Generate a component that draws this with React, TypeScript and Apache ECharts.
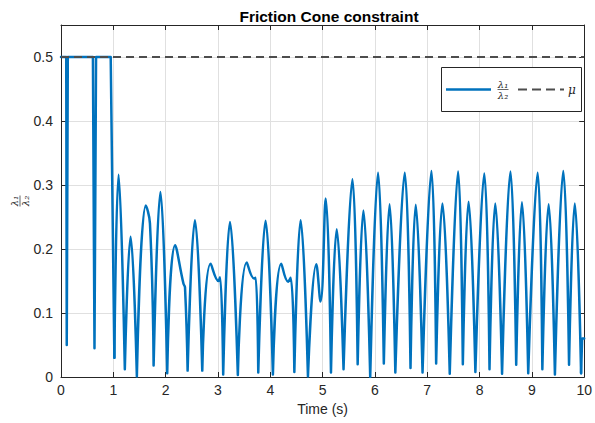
import React, { useEffect, useRef } from "react";
import * as echarts from "echarts";

// Initial sticking phase (ratio saturated at mu)
const startTimes = [0, 0.1, 0.11, 0.13, 0.61, 0.64, 0.67, 0.95, 1.02];
const startRatios = [0.5, 0.5, 0.05, 0.5, 0.5, 0.045, 0.5, 0.5, 0.03];

// Walking cycles (peaks, troughs and shoulders)
const cycleTimes = [
  1.02, 1.1, 1.22, 1.33, 1.45, 1.62, 1.7, 1.77, 1.9, 2.03, 2.18, 2.34, 2.37, 2.42,
  2.56, 2.7, 2.86, 3.01, 3.04, 3.1, 3.23, 3.38, 3.55, 3.69, 3.72, 3.77, 3.91, 4.05,
  4.21, 4.34, 4.39, 4.46, 4.58, 4.72, 4.88, 4.96, 5.06, 5.16, 5.27, 5.4, 5.57, 5.67,
  5.78, 5.91, 6.06, 6.17, 6.28, 6.39, 6.57, 6.68, 6.78, 6.91, 7.08, 7.17, 7.29, 7.43,
  7.59, 7.68, 7.79, 7.92, 8.09, 8.19, 8.3, 8.43, 8.59, 8.7, 8.81, 8.93, 9.11, 9.2,
  9.32, 9.44, 9.6, 9.71, 9.82, 9.94,
];
const cycleRatios = [
  0.03, 0.316, 0.012, 0.219, 0.001, 0.268, 0.24, 0.018, 0.289, 0.006, 0.206, 0.146, 0.14, 0.01,
  0.245, 0.01, 0.177, 0.15, 0.156, 0.004, 0.242, 0.003, 0.179, 0.154, 0.155, 0.007, 0.244, 0.004,
  0.177, 0.149, 0.155, 0.008, 0.245, 0.001, 0.176, 0.118, 0.279, 0.007, 0.231, 0.012, 0.309, 0.02,
  0.26, 0.0, 0.319, 0.021, 0.27, 0.007, 0.319, 0.014, 0.269, 0.007, 0.322, 0.021, 0.271, 0.005,
  0.321, 0.02, 0.274, 0.008, 0.318, 0.012, 0.271, 0.005, 0.321, 0.019, 0.273, 0.006, 0.319, 0.012,
  0.27, 0.004, 0.322, 0.019, 0.271, 0.006,
];

// Final step at the end of the run
const endTimes = [9.94, 9.96, 10];
const endRatios = [0.006, 0.06, 0.06];

const muTimes = [0, 10];
const muValues = [0.5, 0.5];

const xRange = [0, 10];
const yRange = [0, 0.55];

const TEXT = "#262626";
const GRID = "#e0e0e0";
const BLUE = "#0072BD";
const DASH = "#4d4d4d";
const FONT = "'Liberation Sans', Arial, sans-serif";
const MATH = "'DejaVu Serif', 'Liberation Serif', serif";

const zip = (a: number[], b: number[]) => a.map((t, i) => [t, b[i]]);

// Split the smooth curve at each contact (local minimum) so the troughs stay sharp.
function archData(ts: number[], vs: number[]) {
  const out: (number[] | null)[] = [];
  for (let i = 0; i < ts.length; i++) {
    out.push([ts[i], vs[i]]);
    const isMin = i > 0 && i < ts.length - 1 && vs[i] < vs[i - 1] && vs[i] < vs[i + 1] && vs[i] < 0.05;
    if (isMin) {
      out.push(null);
      out.push([ts[i], vs[i]]);
    }
  }
  return out;
}

function fraction(x: number, y: number, rotation: number, size: number, barW: number, z: number) {
  return {
    type: "group",
    x,
    y,
    rotation,
    silent: true,
    children: [
      {
        type: "text",
        x: 0,
        y: -0.5,
        z,
        style: { text: "λ₁", font: `italic ${size}px ${MATH}`, fill: TEXT, align: "center", verticalAlign: "bottom" },
      },
      {
        type: "line",
        z,
        shape: { x1: -barW / 2, y1: 0, x2: barW / 2, y2: 0 },
        style: { stroke: TEXT, lineWidth: 0.7 },
      },
      {
        type: "text",
        x: 0,
        y: 0.5,
        z,
        style: { text: "λ₂", font: `italic ${size}px ${MATH}`, fill: TEXT, align: "center", verticalAlign: "top" },
      },
    ],
  };
}

export default function App() {
  const ref = useRef<HTMLDivElement>(null);
  useEffect(() => {
    if (!ref.current) return;
    const chart = echarts.init(ref.current, undefined, { renderer: "svg" });
    const axisCommon = {
      type: "value",
      axisLine: { show: true, onZero: false, lineStyle: { color: TEXT, width: 1 } },
      axisTick: { show: true, inside: true, length: 5, lineStyle: { color: TEXT } },
    };
    const blueLine = { color: BLUE, width: 2.5, cap: "round", join: "round" };
    chart.setOption({
      animation: false,
      backgroundColor: "#ffffff",
      title: {
        text: "Friction Cone constraint",
        left: 324,
        top: 3,
        textAlign: "center",
        textStyle: { fontFamily: FONT, fontWeight: "bold", fontSize: 15.5, color: "#000" },
      },
      grid: { left: 61, top: 25, width: 526, height: 352, containLabel: false },
      xAxis: [
        {
          ...axisCommon,
          position: "bottom",
          min: xRange[0],
          max: xRange[1],
          interval: 1,
          name: "Time (s)",
          nameLocation: "middle",
          nameGap: 25,
          nameTextStyle: { fontFamily: FONT, fontSize: 14, color: TEXT },
          axisLabel: { fontFamily: FONT, fontSize: 14, color: TEXT, margin: 6 },
          splitLine: { show: true, lineStyle: { color: GRID, width: 1 } },
        },
        {
          ...axisCommon,
          position: "top",
          min: xRange[0],
          max: xRange[1],
          interval: 1,
          axisLabel: { show: false },
          splitLine: { show: false },
        },
      ],
      yAxis: [
        {
          ...axisCommon,
          position: "left",
          min: yRange[0],
          max: yRange[1],
          interval: 0.1,
          axisLabel: {
            fontFamily: FONT,
            fontSize: 14,
            color: TEXT,
            margin: 8,
            showMaxLabel: false,
            formatter: (v: number) => (v > 0.5 + 1e-9 ? "" : String(Math.round(v * 10) / 10)),
          },
          splitLine: { show: true, lineStyle: { color: GRID, width: 1 } },
        },
        {
          ...axisCommon,
          position: "right",
          min: yRange[0],
          max: yRange[1],
          interval: 0.1,
          axisLabel: { show: false },
          splitLine: { show: false },
        },
      ],
      series: [
        {
          name: "λ1/λ2",
          type: "line",
          data: zip(startTimes, startRatios),
          showSymbol: false,
          smooth: false,
          lineStyle: blueLine,
          z: 3,
        },
        {
          name: "λ1/λ2",
          type: "line",
          data: archData(cycleTimes, cycleRatios),
          connectNulls: false,
          showSymbol: false,
          smooth: 0.45,
          lineStyle: blueLine,
          z: 3,
        },
        {
          name: "λ1/λ2",
          type: "line",
          data: zip(endTimes, endRatios),
          showSymbol: false,
          smooth: false,
          lineStyle: blueLine,
          z: 3,
        },
        {
          name: "μ",
          type: "line",
          data: zip(muTimes, muValues),
          showSymbol: false,
          lineStyle: { color: DASH, width: 2, type: [8, 5] },
          z: 4,
        },
      ],
      graphic: [
        fraction(20, 201, Math.PI / 2, 10, 11, 5),
        {
          type: "rect",
          shape: { x: 441.5, y: 67.5, width: 140, height: 44 },
          style: { fill: "#ffffff", stroke: TEXT, lineWidth: 1 },
          z: 10,
        },
        {
          type: "line",
          shape: { x1: 446, y1: 89.5, x2: 491, y2: 89.5 },
          style: { stroke: BLUE, lineWidth: 2.5 },
          z: 11,
        },
        fraction(503, 89.5, 0, 10, 11, 11),
        {
          type: "line",
          shape: { x1: 518, y1: 89.5, x2: 564, y2: 89.5 },
          style: { stroke: DASH, lineWidth: 2, lineDash: [9, 5] },
          z: 11,
        },
        {
          type: "text",
          x: 568,
          y: 90,
          style: { text: "μ", font: `italic 12px ${MATH}`, fill: TEXT, align: "left", verticalAlign: "middle" },
          z: 11,
        },
      ],
    });
    return () => chart.dispose();
  }, []);
  return (
    <div
      ref={ref}
      style={{ position: "fixed", left: 0, top: 0, width: 595, height: 423, background: "#fff" }}
    />
  );
}
